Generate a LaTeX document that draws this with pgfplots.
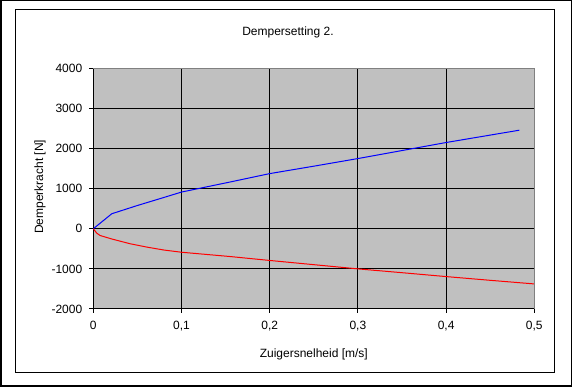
\documentclass[border=0pt]{standalone}
\usepackage{pgfplots}
\pgfplotsset{compat=1.18}
\usepackage{fontspec}
\setmainfont{Liberation Sans}
\definecolor{plotgray}{HTML}{C0C0C0}
\definecolor{framegray}{HTML}{808080}
\begin{document}
\begin{tikzpicture}[x=1pt,y=1pt,font=\fontsize{12}{14}\selectfont]
\useasboundingbox (0,0) rectangle (572,387);
\draw[line width=1.5pt] (0.75,0.75) rectangle (571.25,386.25);
\draw[line width=1pt] (15.3,14.3) rectangle (554,377.7);
\node[anchor=base,inner sep=0pt] at (288,351) {Dempersetting 2.};
\begin{axis}[
  at={(93.3pt,78pt)}, anchor=south west,
  width=441pt, height=240.7pt, scale only axis,
  xmin=0, xmax=0.5, ymin=-2000, ymax=4000,
  xtick={0,0.1,0.2,0.3,0.4,0.5},
  ytick={-2000,-1000,0,1000,2000,3000,4000},
  axis lines*=left,
  axis line style={line width=1pt, black},
  axis background/.style={fill=plotgray},
  grid=major,
  major grid style={line width=1pt, black},
  tick align=outside, major tick length=4pt,
  tick style={line width=1pt, black},
  /pgf/number format/assume math mode=true,
  /pgf/number format/1000 sep={},
  xticklabel style={/pgf/number format/use comma, /pgf/number format/fixed, yshift=-5pt},
  yticklabel style={xshift=-3.5pt},
  xlabel={Zuigersnelheid [m/s]},
  ylabel={Demperkracht [N]},
  xlabel style={at={(axis description cs:0.5,-0.187)}, anchor=center},
  ylabel style={at={(axis description cs:-0.121,0.507)}, anchor=center},
  clip mode=individual,
]
\addplot[blue, line width=1pt] coordinates {
 (0,0) (0.021,375) (0.05,580) (0.08,780) (0.1,915) (0.155,1165) (0.2,1375)
 (0.25,1560) (0.3,1750) (0.35,1950) (0.4,2150) (0.45,2335) (0.483,2457)
};
\addplot[red, line width=1pt] coordinates {
 (0,0) (0.004,-110) (0.0076,-167) (0.021,-255) (0.042,-375) (0.061,-458)
 (0.08,-530) (0.1,-585) (0.155,-692) (0.2,-790) (0.25,-895) (0.3,-1000)
 (0.35,-1095) (0.4,-1192) (0.45,-1285) (0.5,-1375)
};
\draw[framegray, line width=1pt] (rel axis cs:0,1) -- (rel axis cs:1,1) -- (rel axis cs:1,0);
\end{axis}
\end{tikzpicture}
\end{document}
